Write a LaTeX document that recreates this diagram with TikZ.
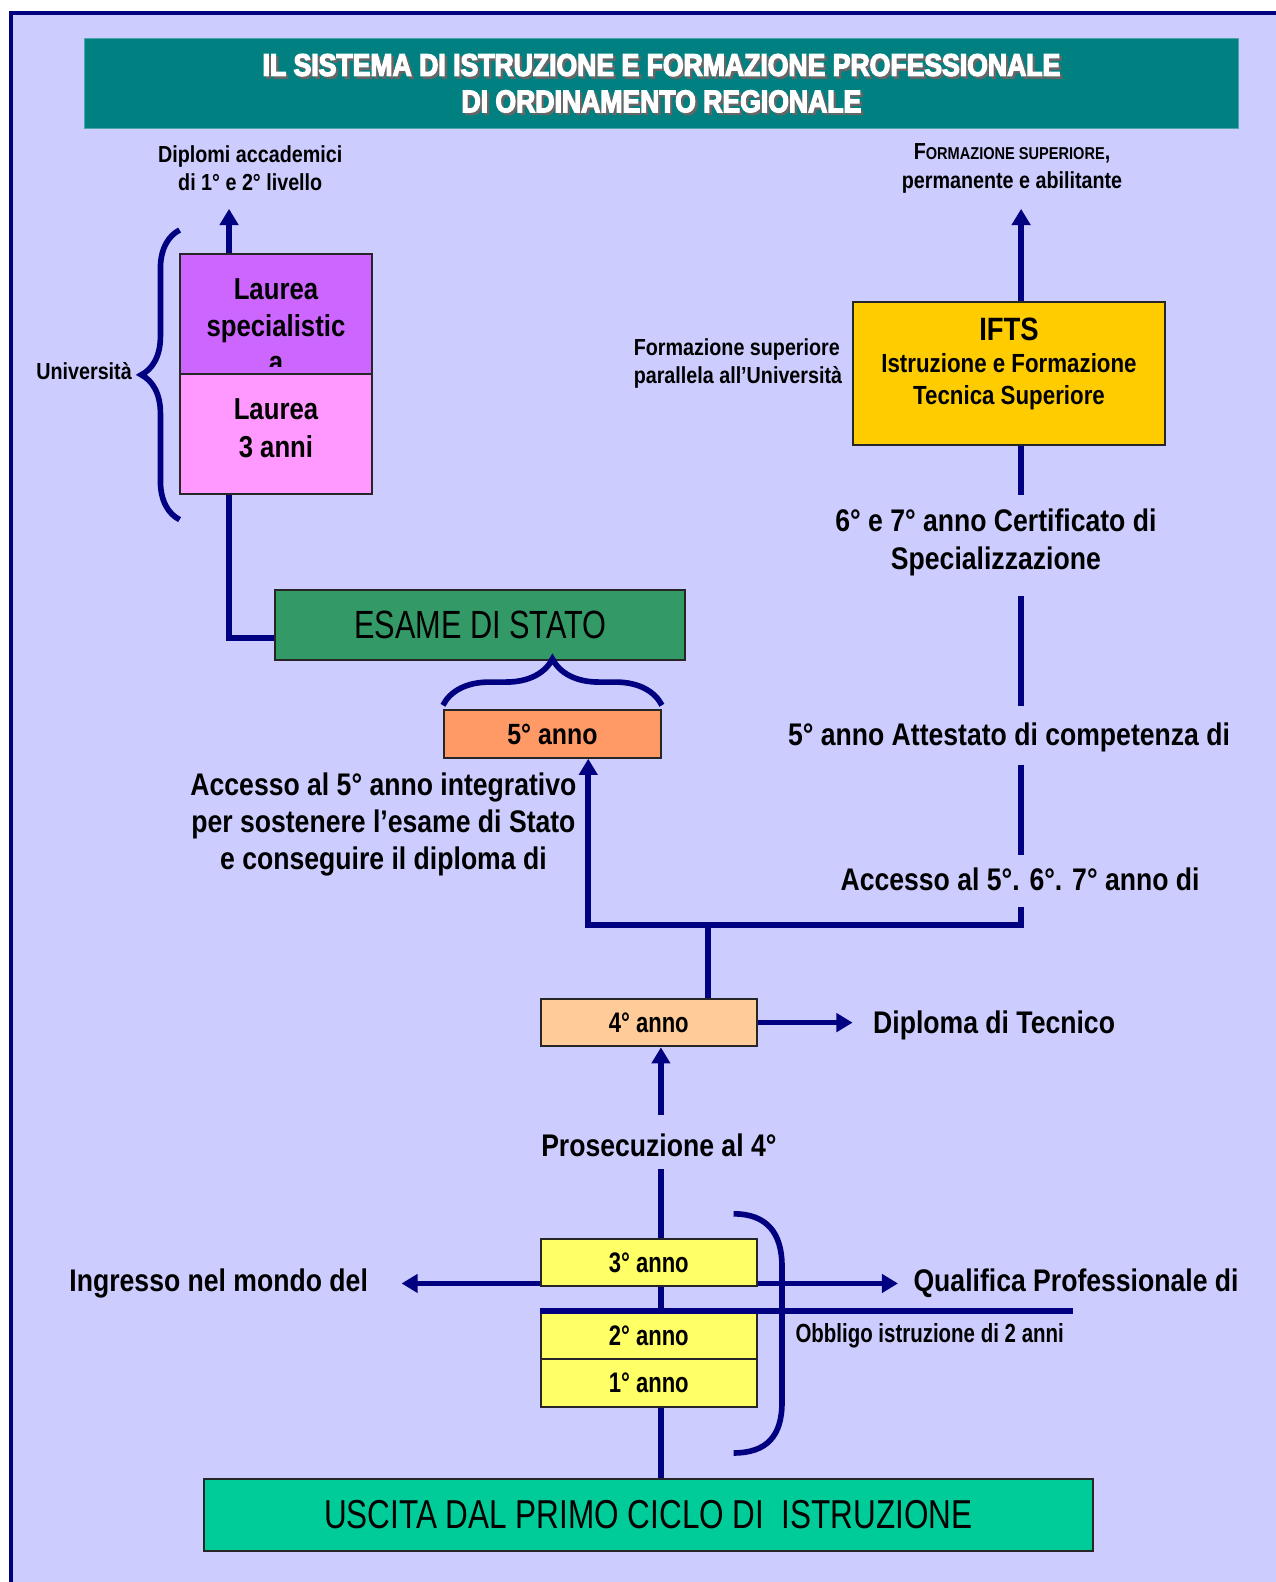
\documentclass[tikz,border=0pt]{standalone}
\usepackage{fontspec}
\setmainfont[FakeStretch=0.85]{Liberation Sans}
\newfontfamily\narrowfont[FakeStretch=0.78]{Liberation Sans}
\newfontfamily\titlefont[FakeStretch=0.85, BoldFeatures={FakeBold=4}]{Liberation Sans}
\usetikzlibrary{arrows.meta,decorations.pathreplacing}

\definecolor{sfondo}{HTML}{CCCCFF}
\definecolor{blu}{HTML}{000080}
\definecolor{titolo}{HTML}{008080}
\definecolor{lspecc}{HTML}{CC66FF}
\definecolor{ltrec}{HTML}{FF99FF}
\definecolor{esamec}{HTML}{339966}
\definecolor{annocinque}{HTML}{FF9966}
\definecolor{annoquattro}{HTML}{FFCC99}
\definecolor{annobase}{HTML}{FFFF66}
\definecolor{iftsc}{HTML}{FFCC00}
\definecolor{uscitac}{HTML}{00CC99}

\tikzset{
  link/.style={draw=blu, line width=2.8pt},
  box/.style={draw=black!85, line width=1pt, inner sep=0pt, align=center},
  lbl/.style={font=\bfseries\fontsize{15.5}{18.5}\selectfont, align=center, inner sep=0pt},
  lblsmall/.style={font=\bfseries\fontsize{11.5}{14}\selectfont, align=center, inner sep=0pt},
  annobox/.style={box, fill=annobase, minimum width=107pt, minimum height=23.5pt,
    font=\narrowfont\bfseries\fontsize{14}{16}\selectfont},
  titletext/.style={font=\titlefont\bfseries\fontsize{15.5}{18}\selectfont, align=center, inner sep=0pt},
  graffa/.style={draw=blu, line width=2.8pt, decorate}
}

\begin{document}
\begin{tikzpicture}[x=0.5pt, y=-0.5pt, >={Triangle[width=9pt,length=8pt]}]

  \useasboundingbox (0,0) rectangle (1264.6,1567.9);
  \fill[sfondo] (12,14) rectangle (1264.6,1567.9);
  \draw[blu, line width=2pt] (11,1567.9) -- (11,13) -- (1264.6,13);

  % titolo
  \node[fill=titolo, draw=titolo!70, minimum width=571.5pt, minimum height=44.5pt] (title) at (655.5,82.5) {};
  \node[titletext, text=black!60, xshift=1.2pt, yshift=-1.2pt] (titleshade) at (title)
    {IL SISTEMA DI ISTRUZIONE E FORMAZIONE PROFESSIONALE\\DI ORDINAMENTO REGIONALE};
  \node[titletext, text=white] (titlelbl) at (title)
    {IL SISTEMA DI ISTRUZIONE E FORMAZIONE PROFESSIONALE\\DI ORDINAMENTO REGIONALE};

  % universita'
  \node[lblsmall] (dipl) at (248,167) {Diplomi accademici\\di 1° e 2° livello};
  \node[lblsmall, anchor=east] (univ) at (131,368) {Università};
  \node[box, fill=lspecc, minimum width=95.5pt, minimum height=59.5pt] (lspec) at (273.5,311.5) {};
  \begin{scope}
    \clip (lspec.north west) rectangle ([yshift=4.5pt]lspec.south east);
    \node[align=center, inner sep=0pt, font=\bfseries\fontsize{15}{18}\selectfont] (lspectext) at (273.5,323) {Laurea\\specialistic\\a};
  \end{scope}
  \node[box, fill=ltrec, minimum width=95.5pt, minimum height=59.5pt, text depth=6pt,
    font=\bfseries\fontsize{15}{19}\selectfont] (ltre) at (273.5,430.5) {Laurea\\3 anni};
  \draw[graffa, decoration={brace, amplitude=19pt}] (178,515) -- (178,228);

  \coordinate (unitop) at (227,207);
  \draw[link,->] (lspec.north -| unitop) -- (unitop);

  % esame di stato
  \node[box, fill=esamec, minimum width=203pt, minimum height=34.5pt,
    font=\narrowfont\fontsize{19.5}{22}\selectfont] (esame) at (476,619.5) {ESAME DI STATO};
  \draw[link] (ltre.south -| unitop) |- ([yshift=-6.25pt]esame.west);

  \node[box, fill=annocinque, minimum width=107.5pt, minimum height=23.5pt,
    font=\bfseries\fontsize{14.5}{17}\selectfont] (anno5) at (547.5,727.5) {5° anno};
  \draw[graffa, decoration={brace, amplitude=23pt}] ([yshift=2pt]anno5.north west) -- ([yshift=2pt]anno5.north east);
  \node[lbl] (accint) at (380,817) {Accesso al 5° anno integrativo\\per sostenere l’esame di Stato\\e conseguire il diploma di};

  % IFTS
  \node[lblsmall] (formsup) at (1003,167) {F{\fontsize{8.5}{10}\selectfont ORMAZIONE SUPERIORE},\\permanente e abilitante};
  \node[box, fill=iftsc, minimum width=155pt, minimum height=71pt, text depth=12pt,
    font=\bfseries\fontsize{13}{16}\selectfont] (ifts) at (1000,370)
    {{\fontsize{16}{16}\selectfont IFTS}\\Istruzione e Formazione\\Tecnica Superiore};
  \node[lblsmall, align=left, anchor=east] (parall) at (835,360) {Formazione superiore\\parallela all’Università};
  \coordinate (iftstop) at (1012,207);
  \draw[link,->] (ifts.north -| iftstop) -- (iftstop);

  \node[lbl] (cert) at (987,537.5) {6° e 7° anno Certificato di\\Specializzazione};
  \node[lbl] (attest) at (1000,731) {5° anno Attestato di competenza di};
  \node[lbl] (acc) at (1011,871) {Accesso al 5°. 6°. 7° anno di};
  \coordinate (col) at (1012,917);
  \draw[link, shorten >=7pt] (ifts.south -| col) -- (cert.north -| col);
  \draw[link, shorten <=10pt, shorten >=8pt] (cert.south -| col) -- (attest.north -| col);
  \draw[link, shorten <=6pt, shorten >=6pt] (attest.south -| col) -- (acc.north -| col);

  % 4 anno e bivio
  \node[annobox, fill=annoquattro] (anno4) at (643,1013.5) {4° anno};
  \node[lbl, anchor=west] (diptec) at (865,1016) {Diploma di Tecnico};
  \draw[link,->, shorten >=10pt] (anno4.east) -- (anno4.east -| diptec.west);

  \coordinate (fork) at (702,917);
  \draw[link] (anno4.north -| fork) -- (fork);
  \draw[link,->] (fork) -| ([xshift=17.75pt]anno5.south);
  \draw[link, shorten >=8pt] (fork) -| (acc.south -| col);

  % primo biennio / triennio
  \coordinate (spine) at (655,0);
  \node[lbl] (prosec) at (653,1135) {Prosecuzione al 4°};
  \draw[link,->, shorten <=9pt] (prosec.north -| spine) -- (anno4.south -| spine);

  \node[annobox] (anno3) at (643,1251.5) {3° anno};
  \node[annobox] (anno2) at (643,1323.5) {2° anno};
  \node[annobox] (anno1) at (643,1370.5) {1° anno};
  \draw[link, shorten >=6pt] (anno3.north -| spine) -- (prosec.south -| spine);
  \draw[link] (anno3.south -| spine) -- (anno2.north -| spine);

  \node[lbl, anchor=east] (ingr) at (365,1272) {Ingresso nel mondo del};
  \node[lbl, anchor=west] (qual) at (905,1272) {Qualifica Professionale di};
  \draw[link,->, shorten >=16.5pt] (anno3.west |- ingr.east) -- (ingr.east);
  \draw[link,->, shorten >=7.5pt] (anno3.east |- qual.west) -- (qual.west);

  \coordinate (obbend) at (1063,1298);
  \draw[link] (anno2.north west) -- (anno2.north west -| obbend);
  \node[lblsmall, anchor=west, font=\narrowfont\bfseries\fontsize{13}{15}\selectfont] (obbligo) at (788,1324) {Obbligo istruzione di 2 anni};
  \draw[link] (727,1203) .. controls (760,1203) and (775,1222) .. (775,1255) -- (775,1390)
    .. controls (775,1423) and (760,1440) .. (727,1440);

  % uscita
  \node[box, fill=uscitac, minimum width=440.5pt, minimum height=35.5pt,
    font=\narrowfont\fontsize{20}{24}\selectfont] (uscita) at (642.5,1501.5) {USCITA DAL PRIMO CICLO DI\ \ ISTRUZIONE};
  \draw[link] (anno1.south -| spine) -- (uscita.north -| spine);

\end{tikzpicture}
\end{document}
